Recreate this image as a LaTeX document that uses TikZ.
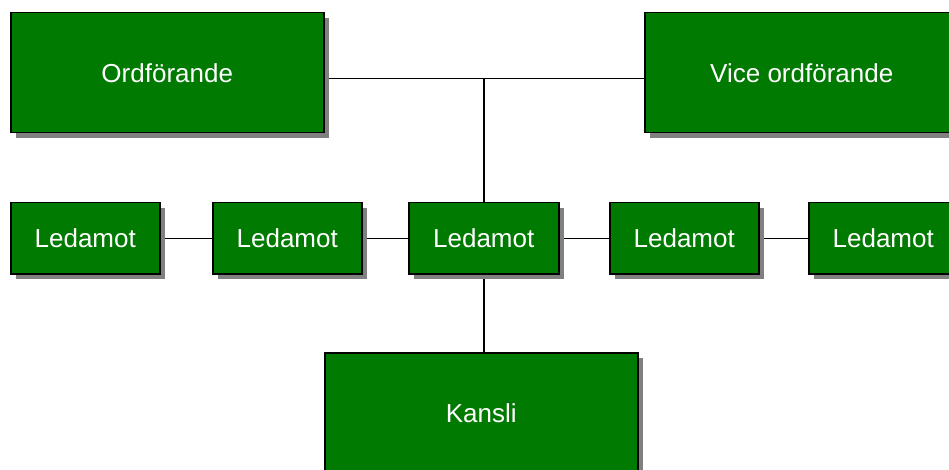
\documentclass[tikz,border=0pt]{standalone}
\usepackage{fontspec}
\setmainfont{Liberation Sans}
\usetikzlibrary{shadows,backgrounds}
\definecolor{boxgreen}{RGB}{0,122,0}
\definecolor{shadegray}{RGB}{128,128,128}
\begin{document}
\begin{tikzpicture}[x=1pt,y=-1pt,
  orgbox/.style={draw=black, line width=1.5pt, fill=boxgreen, text=white,
    font=\fontsize{26}{30}\selectfont, inner sep=0pt, anchor=north west,
    drop shadow={shadow xshift=5pt, shadow yshift=-5pt, fill=shadegray, opacity=1}},
  bigbox/.style={orgbox, minimum width=313pt, minimum height=120pt},
  smallbox/.style={orgbox, minimum width=149pt, minimum height=71pt},
  conn/.style={draw=black, line width=1.5pt}]
\useasboundingbox (0,0) rectangle (949,470);
\clip (0,0) rectangle (949,470);
\node[bigbox] (ord) at (10,12) {Ordförande};
\node[bigbox, minimum width=314pt] (vice) at (644,12) {Vice ordförande};
\node[smallbox] (l1) at (10,202) {Ledamot};
\node[smallbox] (l2) at (212,202) {Ledamot};
\node[smallbox, minimum width=150pt] (l3) at (408,202) {Ledamot};
\node[smallbox] (l4) at (609,202) {Ledamot};
\node[smallbox] (l5) at (808,202) {Ledamot};
\node[bigbox] (kansli) at (324,352) {Kansli};
\begin{scope}[on background layer]
  \coordinate (oe) at ([yshift=-6pt]ord.east);
  \coordinate (vw) at ([yshift=-6pt]vice.west);
  \coordinate (j) at (l3.north |- oe);
  \coordinate (kn) at (l3.south |- kansli.north);
  \draw[conn] (oe) -- (vw);
  \draw[conn] (l3.north) -- (j);
  \draw[conn] (l1.east) -- (l2.west);
  \draw[conn] (l2.east) -- (l3.west);
  \draw[conn] (l3.east) -- (l4.west);
  \draw[conn] (l4.east) -- (l5.west);
  \draw[conn] (l3.south) -- (kn);
\end{scope}
\end{tikzpicture}
\end{document}
